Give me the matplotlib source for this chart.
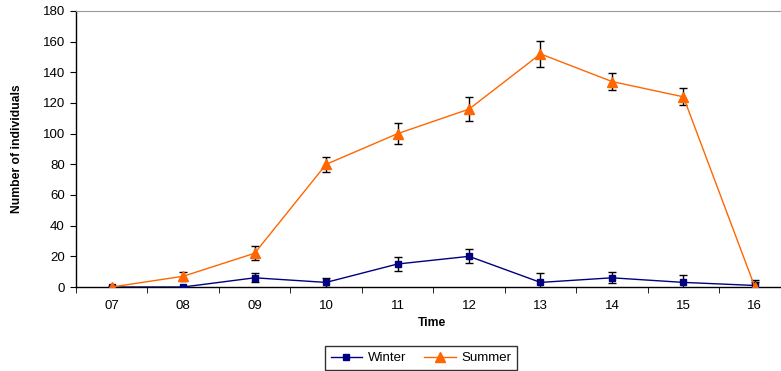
import matplotlib
matplotlib.use("Agg")
import matplotlib.pyplot as plt
from matplotlib.lines import Line2D
import numpy as np

plt.rcParams['font.family'] = ['Liberation Sans', 'DejaVu Sans']
plt.rcParams['font.size'] = 9.5

hours = ["07", "08", "09", "10", "11", "12", "13", "14", "15", "16"]
winter = [0, 0, 6, 3, 15, 20, 3, 6, 3, 1]
winter_err = [0, 0, 3, 3, 4.5, 4.5, 6, 3.5, 5, 3.5]
summer = [0, 7, 22, 80, 100, 116, 152, 134, 124, 0]
summer_err = [0, 3, 4.5, 5, 7, 8, 8.5, 5.5, 5.5, 3]

navy = '#000080'
orange = '#FF6600'

x = np.arange(len(hours))

fig = plt.figure(figsize=(7.81, 3.71), dpi=100)
ax = fig.add_axes([0.0973, 0.2264, 0.915, 0.744])

ax.errorbar(x, winter, yerr=winter_err, color=navy, marker='s', markersize=4,
            linewidth=1, ecolor='black', elinewidth=1, capsize=3, capthick=1,
            zorder=3)
ax.errorbar(x, summer, yerr=summer_err, color=orange, marker='^', markersize=6.5,
            linewidth=1, ecolor='black', elinewidth=1, capsize=3, capthick=1,
            zorder=4)

ax.set_xlim(-0.5, len(hours) - 0.5)
ax.set_ylim(0, 180)
ax.set_yticks(range(0, 181, 20))
ax.set_xticks(x)
ax.set_xticklabels(hours)
ax.set_xticks(np.arange(-0.5, len(hours)), minor=True)
ax.tick_params(axis='x', which='major', length=0, pad=9)
ax.tick_params(axis='x', which='minor', length=4, direction='out')
ax.tick_params(axis='y', length=4, direction='out', pad=4)

for side in ['left', 'bottom']:
    ax.spines[side].set_color('black')
    ax.spines[side].set_linewidth(1)
ax.spines['top'].set_color('#999999')
ax.spines['right'].set_visible(False)

ax.set_ylabel('Number of individuals', fontweight='bold', fontsize=8.7)
ax.yaxis.set_label_coords(-0.074, 0.5)
ax.set_xlabel('Time', fontweight='bold', fontsize=8.7)
ax.xaxis.set_label_coords(0.498, -0.108)

handles = [
    Line2D([], [], color=navy, marker='s', markersize=4, linewidth=1),
    Line2D([], [], color=orange, marker='^', markersize=6.5, linewidth=1),
]
leg = fig.legend(handles, ['Winter', 'Summer'], loc='center',
                 bbox_to_anchor=(0.539, 0.035), ncol=2, numpoints=1,
                 frameon=True, fancybox=False, edgecolor='black', fontsize=9.5,
                 handlelength=2.4, handletextpad=0.4, borderpad=0.45,
                 borderaxespad=0, columnspacing=1.4)
leg.get_frame().set_linewidth(1)

fig.savefig('out.png', dpi=100)
